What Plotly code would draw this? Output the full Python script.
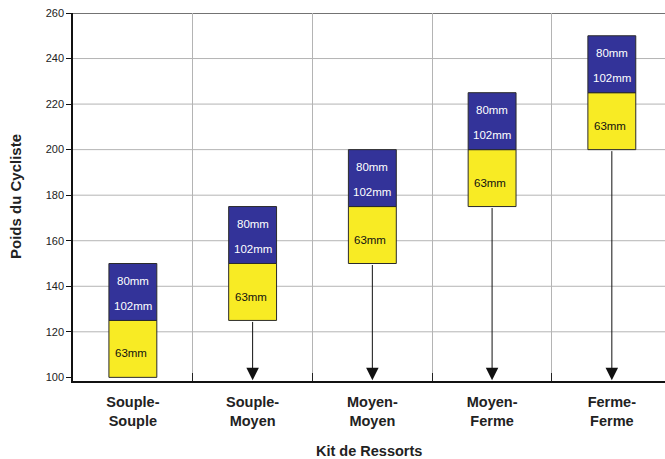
import plotly.graph_objects as go

# Spring kits and the rider-weight band each one covers
kits = ["Souple-<br>Souple", "Souple-<br>Moyen", "Moyen-<br>Moyen", "Moyen-<br>Ferme", "Ferme-<br>Ferme"]
band_low = [100, 125, 150, 175, 200]    # bottom of the 63mm band
band_mid = [125, 150, 175, 200, 225]    # top of 63mm / bottom of 80-102mm band
band_high = [150, 175, 200, 225, 250]   # top of the 80-102mm band
label_short = "63mm"
label_long = ["80mm", "102mm"]
y_ticks = [100, 120, 140, 160, 180, 200, 220, 240, 260]

FONT = "Liberation Sans, Arial, Helvetica, sans-serif"
YELLOW = "#F8EB24"
BLUE = "#333399"
EDGE = "#2b2b2b"
Y_MIN, Y_MAX = 98.4, 260

fig = go.Figure()
fig.add_trace(go.Bar(
    x=kits, base=band_low, y=[m - l for l, m in zip(band_low, band_mid)],
    width=0.4, marker=dict(color=YELLOW, line=dict(color=EDGE, width=1)),
    hoverinfo="skip", showlegend=False))
fig.add_trace(go.Bar(
    x=kits, base=band_mid, y=[h - m for m, h in zip(band_mid, band_high)],
    width=0.4, marker=dict(color=BLUE, line=dict(color=EDGE, width=1)),
    hoverinfo="skip", showlegend=False))

annotations = []
for i, (lo, hi) in enumerate(zip(band_low, band_high)):
    annotations.append(dict(x=i, y=hi - 7.5, xref="x", yref="y", text=label_long[0],
                            showarrow=False, font=dict(family=FONT, size=11.5, color="white")))
    annotations.append(dict(x=i, y=hi - 18.5, xref="x", yref="y", text=label_long[1],
                            showarrow=False, font=dict(family=FONT, size=11.5, color="white")))
    annotations.append(dict(x=i, y=lo + 10.5, xref="x", yref="y", text=label_short, xshift=-2,
                            showarrow=False, font=dict(family=FONT, size=11.5, color="#111")))
    # arrow from the bottom of the band down to the axis
    if lo > y_ticks[0]:
        annotations.append(dict(x=i, y=Y_MIN + 0.3, xref="x", yref="y",
                                ax=i, ay=lo, axref="x", ayref="y", text="",
                                showarrow=True, arrowhead=2, arrowsize=2.5,
                                arrowwidth=1, arrowcolor="#111"))

# axis titles
annotations.append(dict(x=0.5, y=0, xref="paper", yref="paper", yshift=-70,
                        xanchor="center", yanchor="middle",
                        text="Kit de Ressorts", showarrow=False,
                        font=dict(family=FONT, size=14.5, color="#222", weight="bold")))
annotations.append(dict(x=0, y=0.5, xref="paper", yref="paper", xshift=-58,
                        xanchor="center", yanchor="middle",
                        text="Poids du Cycliste", textangle=-90, showarrow=False,
                        font=dict(family=FONT, size=15, color="#222", weight="bold")))

# horizontal grid lines (the top one drawn darker as a frame)
shapes = []
for v in y_ticks[1:]:
    top = v == y_ticks[-1]
    shapes.append(dict(type="line", xref="paper", x0=0, x1=1, yref="y", y0=v, y1=v,
                       layer="below",
                       line=dict(color="#444444" if top else "#b4b4b4", width=1.6 if top else 1)))

fig.update_layout(
    width=665, height=459,
    margin=dict(l=73, r=0, t=13, b=78),
    paper_bgcolor="white", plot_bgcolor="white",
    barmode="overlay",
    annotations=annotations, shapes=shapes,
    font=dict(family=FONT, color="#222"),
)
fig.update_xaxes(
    type="category", range=[-0.5, 4.444],
    tickson="boundaries", ticks="inside", ticklen=8, tickcolor="#222", tickwidth=1,
    showgrid=True, gridcolor="#b4b4b4", gridwidth=1,
    showline=True, linecolor="#111", linewidth=1.5,
    tickfont=dict(family=FONT, size=14.5, color="#222", weight="bold"),
    ticklabelstandoff=7,
)
fig.update_yaxes(
    range=[Y_MIN, Y_MAX], tickvals=y_ticks,
    ticks="outside", ticklen=5, tickcolor="#111",
    showgrid=False, zeroline=False,
    showline=True, linecolor="#111", linewidth=1.5,
    tickfont=dict(family=FONT, size=11, color="#222"),
)

fig.write_html("out.html")
